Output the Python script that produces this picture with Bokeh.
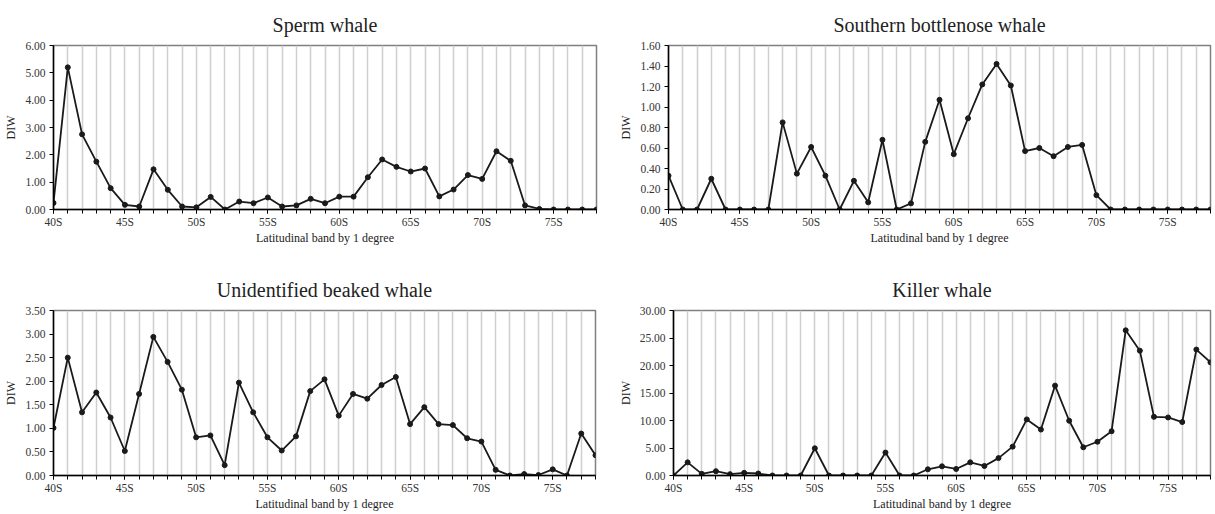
from bokeh.plotting import figure
from bokeh.layouts import column, row
from bokeh.models import Range1d, FixedTicker, NumeralTickFormatter
from bokeh.embed import file_html
from bokeh.resources import INLINE

# Latitudinal bands (degrees south)
bands = list(range(40, 79))
band_ticks = [40, 45, 50, 55, 60, 65, 70, 75]
band_labels = ["40S", "45S", "50S", "55S", "60S", "65S", "70S", "75S"]

# DIW per band for each species
sperm = [0.24, 5.20, 2.75, 1.75, 0.78, 0.17, 0.11, 1.47, 0.72, 0.11,
         0.08, 0.46, 0.00, 0.29, 0.23, 0.44, 0.11, 0.15, 0.39, 0.23,
         0.47, 0.47, 1.18, 1.83, 1.56, 1.39, 1.50, 0.48, 0.73, 1.26,
         1.12, 2.13, 1.78, 0.15, 0.02, 0.00, 0.00, 0.00, 0.00]
bottlenose = [0.33, 0.00, 0.00, 0.30, 0.00, 0.00, 0.00, 0.00, 0.85, 0.35,
              0.61, 0.33, 0.00, 0.28, 0.07, 0.68, 0.00, 0.06, 0.66, 1.07,
              0.54, 0.89, 1.22, 1.42, 1.21, 0.57, 0.60, 0.52, 0.61, 0.63,
              0.14, 0.00, 0.00, 0.00, 0.00, 0.00, 0.00, 0.00, 0.00]
beaked = [1.01, 2.50, 1.34, 1.76, 1.23, 0.52, 1.73, 2.94, 2.41, 1.82,
          0.81, 0.85, 0.22, 1.97, 1.34, 0.81, 0.53, 0.83, 1.79, 2.04,
          1.27, 1.73, 1.63, 1.92, 2.09, 1.09, 1.45, 1.09, 1.07, 0.79,
          0.72, 0.12, 0.00, 0.03, 0.01, 0.13, 0.00, 0.89, 0.43]
killer = [0.00, 2.39, 0.30, 0.78, 0.24, 0.48, 0.36, 0.00, 0.00, 0.00,
          4.95, 0.00, 0.00, 0.00, 0.00, 4.17, 0.00, 0.00, 1.13, 1.67,
          1.19, 2.39, 1.73, 3.16, 5.25, 10.20, 8.35, 16.34, 9.96, 5.13,
          6.14, 8.05, 26.40, 22.70, 10.67, 10.55, 9.72, 22.90, 20.57]

SERIF = "Liberation Serif"


def panel(title, values, y_max, y_step, width, height, borders, title_gap):
    left, right, top, bottom = borders
    p = figure(width=width, height=height, output_backend="svg",
               toolbar_location=None, x_range=Range1d(40, 78),
               y_range=Range1d(0, y_max),
               min_border_left=left, min_border_right=right,
               min_border_top=top, min_border_bottom=bottom)
    p.title.text = title
    p.title.align = "center"
    p.title.vertical_align = "middle"
    p.title.text_font = SERIF
    p.title.text_font_size = "20px"
    p.title.text_font_style = "normal"
    p.title.text_color = "#222222"
    p.title.standoff = title_gap

    p.outline_line_color = "#808080"
    p.outline_line_width = 1.5
    p.background_fill_color = "white"
    p.border_fill_color = "white"

    # x axis: labels every 5 degrees, a tick at every degree
    n = int(round(y_max / y_step))
    p.xaxis.ticker = FixedTicker(ticks=band_ticks, minor_ticks=bands)
    p.xaxis.major_label_overrides = {t: l for t, l in zip(band_ticks, band_labels)}
    p.xaxis.axis_label = "Latitudinal band by 1 degree"
    p.yaxis.ticker = FixedTicker(ticks=[i * y_step for i in range(n + 1)])
    p.yaxis.formatter = NumeralTickFormatter(format="0.00")
    p.yaxis.axis_label = "DIW"

    for ax in (p.xaxis[0], p.yaxis[0]):
        ax.axis_line_color = "black"
        ax.axis_line_width = 1.5
        ax.major_tick_line_color = "black"
        ax.minor_tick_line_color = "black"
        ax.major_tick_in = 0
        ax.major_tick_out = 4
        ax.minor_tick_in = 0
        ax.minor_tick_out = 4
        ax.major_label_text_font = SERIF
        ax.major_label_text_font_size = "11.5px"
        ax.major_label_text_color = "#333333"
        ax.axis_label_text_font = SERIF
        ax.axis_label_text_font_size = "12px"
        ax.axis_label_text_font_style = "normal"
        ax.axis_label_text_color = "#222222"
    p.yaxis.minor_tick_line_color = None
    p.xaxis.major_label_standoff = 2
    p.xaxis.axis_label_standoff = 0
    p.yaxis.major_label_standoff = 4
    p.yaxis.axis_label_standoff = 4

    p.ygrid.grid_line_color = None
    p.xgrid.ticker = FixedTicker(ticks=bands)
    p.xgrid.grid_line_color = "#cfcfcf"
    p.xgrid.grid_line_width = 1.5

    p.line(bands, values, line_color="#1a1a1a", line_width=1.8)
    p.scatter(bands, values, size=5, fill_color="#1a1a1a", line_color="#1a1a1a")
    return p


p1 = panel("Sperm whale", sperm, 6.0, 1.0, 607, 257, (53, 11, 44, 48), 18)
p2 = panel("Southern bottlenose whale", bottlenose, 1.6, 0.2, 608, 257, (61, 5, 45, 48), 18)
p3 = panel("Unidentified beaked whale", beaked, 3.5, 0.5, 607, 257, (53, 12, 53, 39), 18)
p4 = panel("Killer whale", killer, 30.0, 5.0, 608, 257, (66, 5, 53, 35), 18)

layout = column(row(p1, p2), row(p3, p4))
open("out.html", "w").write(file_html(layout, INLINE))
